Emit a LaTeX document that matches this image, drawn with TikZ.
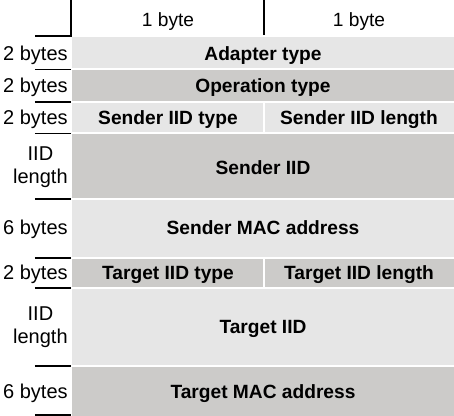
\documentclass[tikz,border=0pt]{standalone}
\usepackage{fontspec}
\setmainfont{Liberation Sans}
\usetikzlibrary{positioning}
\definecolor{lightfield}{RGB}{230,230,230}
\definecolor{darkfield}{RGB}{204,203,201}

\begin{document}
\begin{tikzpicture}[x=0.6pt, y=-0.6pt]
\tikzset{field/.style={font=\fontsize{11.5}{13}\selectfont\bfseries, inner sep=0pt, text height=0.716em, text depth=0pt}}
\tikzset{size/.style={font=\fontsize{12}{13.5}\selectfont, inner sep=0pt, anchor=east, align=center}}
\tikzset{head/.style={font=\fontsize{11.5}{13.5}\selectfont, inner sep=0pt, text height=0.716em, text depth=0pt}}
\tikzset{tick/.style={line width=0.9pt}}
    \useasboundingbox (0,0) rectangle (454,416);

    % header
    \coordinate (Hl) at (71,0);
    \coordinate (Hc) at (71,36);
    \coordinate (Hm) at (264,0);
    \coordinate (Hmb) at (264,35);
    \draw[tick] (Hl) -- (Hc) -- (35,36);
    \draw[tick] (Hm) -- (Hmb);
    \node[head] (ByteA) at (168,20.5) {1 byte};
    \node[head] (ByteB) at (359,20.5) {1 byte};

    % fields
    \foreach \top/\bot/\col in {36/69.5/lightfield, 69.5/102/darkfield, 102/133.5/lightfield, 133.5/199/darkfield, 199/258/lightfield, 258/288/darkfield, 288/366/lightfield, 366/418/darkfield}
        \fill[\col] (72,\top+1) rectangle (454,\bot-1);
    \draw[white, line width=0.8pt] (264,102) -- (264,133.5);
    \draw[white, line width=0.8pt] (264,258) -- (264,288);

    \foreach \y in {69.5,102,133.5,199,258,288,366,415}
        \draw[tick] (35,\y) -- (71,\y);

    \node[field] (AdT) at (263,54.5) {Adapter type};
    \node[field] (OpT) at (263,87) {Operation type};
    \node[field] (SIT) at (168,118.5) {Sender IID type};
    \node[field] (SIL) at (359,118.5) {Sender IID length};
    \node[field] (SIID) at (263,169) {Sender IID};
    \node[field] (SMAC) at (263,228.5) {Sender MAC address};
    \node[field] (TIT) at (168,273.5) {Target IID type};
    \node[field] (TIL) at (359,273.5) {Target IID length};
    \node[field] (TIID) at (263,328) {Target IID};
    \node[field] (TMAC) at (263,393) {Target MAC address};

    % sizes
    \node[size, text height=0.716em, text depth=0pt] (SzAdT) at (68,54.5) {2 bytes};
    \node[size, text height=0.716em, text depth=0pt] (SzOpT) at (68,87) {2 bytes};
    \node[size, text height=0.716em, text depth=0pt] (SzSIT) at (68,118.5) {2 bytes};
    \node[size] (SzSIID) at (68,167) {IID\\length};
    \node[size, text height=0.716em, text depth=0pt] (SzSMAC) at (68,228.5) {6 bytes};
    \node[size, text height=0.716em, text depth=0pt] (SzTIT) at (68,273.5) {2 bytes};
    \node[size] (SzTIID) at (68,327) {IID\\length};
    \node[size, text height=0.716em, text depth=0pt] (SzTMAC) at (68,393) {6 bytes};
\end{tikzpicture}
\end{document}
